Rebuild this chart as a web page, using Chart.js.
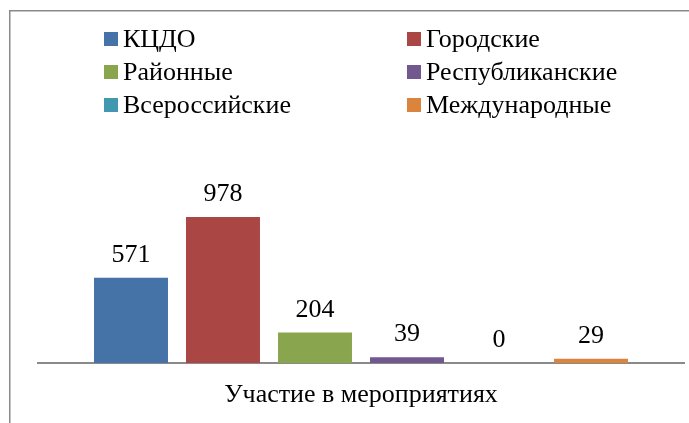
<!DOCTYPE html>
<html>
<head>
<meta charset="utf-8">
<script src="https://cdn.jsdelivr.net/npm/chart.js@4/dist/chart.umd.min.js"></script>
<style>
  html, body { margin: 0; padding: 0; background: #fff; }
  #wrap { position: relative; width: 689px; height: 423px; overflow: hidden; }
  #c { position: absolute; left: 0; top: 0; }
  #legend {
    position: absolute; left: 104px; top: 22px;
    display: grid; grid-template-columns: 303px auto; grid-auto-rows: 33.3px;
    font-family: "Liberation Serif", "DejaVu Serif", serif; font-size: 26px; color: #000;
  }
  #legend .item { display: flex; align-items: center; white-space: nowrap; }
  #legend .sw { width: 14px; height: 14px; margin-right: 5px; flex: none; }
</style>
</head>
<body>
<div id="wrap">
  <canvas id="c" width="689" height="423"></canvas>
  <div id="legend"></div>
</div>
<script>
const categories = ["Участие в мероприятиях"];
const seriesNames = ["КЦДО", "Городские", "Районные", "Республиканские", "Всероссийские", "Международные"];
const seriesValues = [571, 978, 204, 39, 0, 29];
const seriesColors = ["#4572A7", "#AA4643", "#89A54E", "#71588F", "#4198AF", "#DB843D"];

const FONT = '"Liberation Serif", "DejaVu Serif", serif';

const legendEl = document.getElementById('legend');
seriesNames.forEach((name, i) => {
  const it = document.createElement('div');
  it.className = 'item';
  const sw = document.createElement('span');
  sw.className = 'sw';
  sw.style.background = seriesColors[i];
  const tx = document.createElement('span');
  tx.textContent = name;
  it.appendChild(sw); it.appendChild(tx);
  legendEl.appendChild(it);
});

const frame = {
  id: 'frame',
  beforeDraw(chart) {
    const ctx = chart.ctx;
    ctx.save();
    ctx.strokeStyle = '#8a8a8a';
    ctx.lineWidth = 1.5;
    ctx.strokeRect(9.75, 10.75, 760, 500);
    ctx.restore();
  }
};

const valueLabels = {
  id: 'valueLabels',
  afterDatasetsDraw(chart) {
    const ctx = chart.ctx;
    ctx.save();
    ctx.font = '26px ' + FONT;
    ctx.fillStyle = '#000';
    ctx.textAlign = 'center';
    ctx.textBaseline = 'alphabetic';
    chart.data.datasets.forEach((ds, i) => {
      const meta = chart.getDatasetMeta(i);
      meta.data.forEach((bar, j) => {
        ctx.fillText(String(ds.data[j]), bar.x, bar.y - 16);
      });
    });
    ctx.restore();
  }
};

new Chart(document.getElementById('c'), {
  type: 'bar',
  data: {
    labels: categories,
    datasets: seriesNames.map((name, i) => ({
      label: name,
      data: [seriesValues[i]],
      backgroundColor: seriesColors[i],
      borderWidth: 0,
      categoryPercentage: 0.8545,
      barPercentage: 0.804
    }))
  },
  options: {
    responsive: false,
    animation: false,
    events: [],
    layout: { padding: { left: 38, right: 5, top: 184, bottom: 0 } },
    plugins: { legend: { display: false }, tooltip: { enabled: false } },
    scales: {
      x: {
        grid: { display: false, drawTicks: false },
        border: { display: true, color: '#8a8a8a', width: 2 },
        ticks: { color: '#000', font: { family: FONT, size: 26 }, padding: 17 },
        afterFit(scale) { scale.height = 60; }
      },
      y: {
        display: false,
        min: 0, max: 1200
      }
    }
  },
  plugins: [frame, valueLabels]
});
</script>
</body>
</html>
